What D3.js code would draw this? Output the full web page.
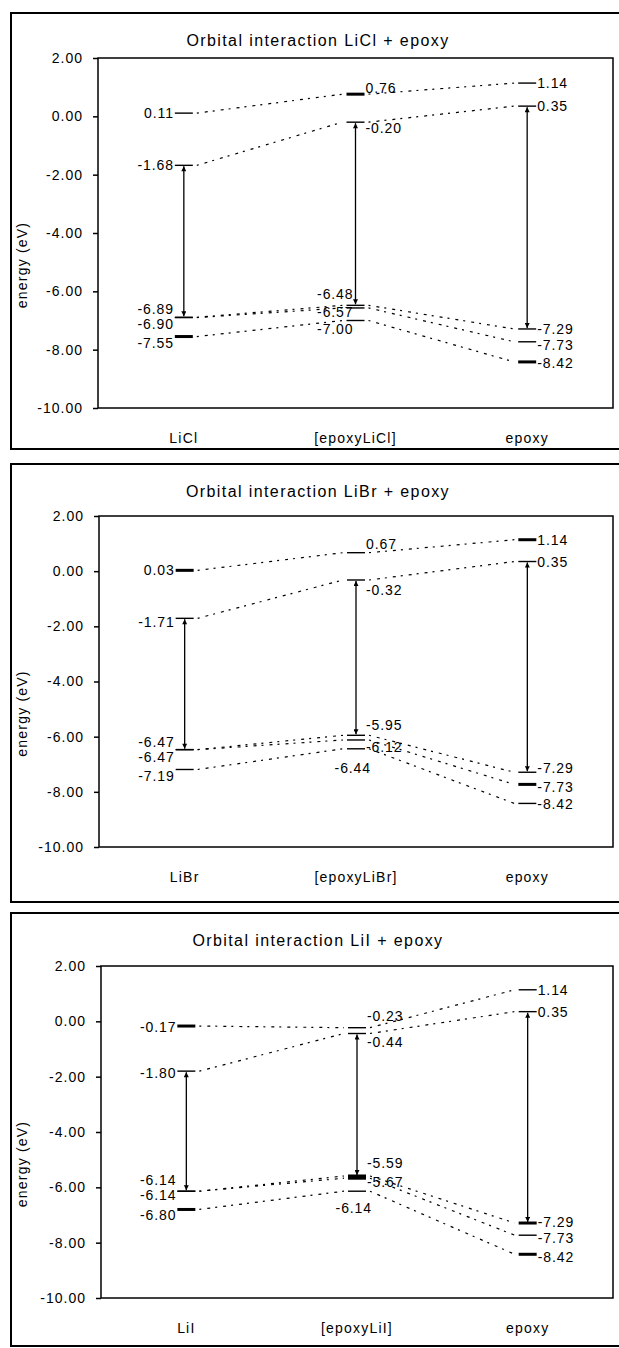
<!DOCTYPE html>
<html>
<head>
<meta charset="utf-8">
<title>Orbital interaction</title>
<script src="https://cdn.jsdelivr.net/npm/d3@7"></script>
<style>
  body { margin: 0; background: #fff; }
  svg { display: block; font-family: "Liberation Sans", Arial, sans-serif; }
  .frame { fill: none; stroke: #000; stroke-width: 2; }
  .plot { fill: none; stroke: #000; stroke-width: 1.5; }
  .link { fill: none; stroke: #000; stroke-width: 1.2; stroke-dasharray: 2,6,3,5; }
  .level { stroke: #000; }
  .gap { stroke: #000; stroke-width: 1.3; }
  .lbl { font-size: 14px; letter-spacing: 0.9px; }
  .title { font-size: 16px; letter-spacing: 1.4px; }
  .cat { font-size: 14px; letter-spacing: 1.2px; }
  .axis text { font-size: 14px; letter-spacing: 1px; font-family: "Liberation Sans", Arial, sans-serif; }
  .axis line { stroke: #000; stroke-width: 1.5; }
</style>
</head>
<body>
<svg id="chart"></svg>
<script>
// ---- data ----
const titles = ["Orbital interaction LiCl + epoxy", "Orbital interaction LiBr + epoxy", "Orbital interaction LiI + epoxy"];
const catsLiCl = ["LiCl", "[epoxyLiCl]", "epoxy"];
const catsLiBr = ["LiBr", "[epoxyLiBr]", "epoxy"];
const catsLiI = ["LiI", "[epoxyLiI]", "epoxy"];
const yTicks = [2, 0, -2, -4, -6, -8, -10];

// energy levels (eV), one row per column, same index = connected orbital
const levelsLiCl = [[0.11, -1.68, -6.89, -6.90, -7.55], [0.76, -0.20, -6.48, -6.57, -7.00], [1.14, 0.35, -7.29, -7.73, -8.42]];
const levelsLiBr = [[0.03, -1.71, -6.47, -6.47, -7.19], [0.67, -0.32, -5.95, -6.12, -6.44], [1.14, 0.35, -7.29, -7.73, -8.42]];
const levelsLiI = [[-0.17, -1.80, -6.14, -6.14, -6.80], [-0.23, -0.44, -5.59, -5.67, -6.14], [1.14, 0.35, -7.29, -7.73, -8.42]];

// LUMO / HOMO index used for the gap arrows
const gapPair = [1, 2];

// ---- styling / placement ----
const thickLiCl = [[0, 0, 0, 0, 1], [1, 0, 0, 0, 0], [0, 0, 0, 0, 1]];
const thickLiBr = [[1, 0, 0, 0, 0], [0, 0, 0, 0, 0], [1, 0, 0, 1, 0]];
const thickLiI = [[1, 0, 0, 0, 1], [0, 0, 1, 1, 0], [0, 0, 1, 0, 1]];

// [side, dy]  l = left of bar, r = right, m = left overlapping, b = below
const labelsLiCl = [
  [["l", 0], ["l", 0], ["l", -8], ["l", 6], ["l", 6]],
  [["r", -6], ["r", 6], ["m", -11], ["m", 4], ["m", 8]],
  [["r", 0], ["r", 0], ["r", 0], ["r", 3], ["r", 1]]];
const labelsLiBr = [
  [["l", 0], ["l", 4], ["l", -8], ["l", 7], ["l", 7]],
  [["r", -9], ["r", 10], ["r", -10], ["r", 7], ["b", 19]],
  [["r", 0], ["r", 0], ["r", -4], ["r", 3], ["r", 1]]];
const labelsLiI = [
  [["l", 1], ["l", 2], ["l", -11], ["l", 4], ["l", 6]],
  [["r", -12], ["r", 8], ["r", -13], ["r", 4], ["b", 17]],
  [["r", 0], ["r", 0], ["r", -1], ["r", 3], ["r", 3]]];

const panels = [
  { title: titles[0], cats: catsLiCl, levels: levelsLiCl, thick: thickLiCl, labels: labelsLiCl, frame: [13, 449], plot: [58, 408], left: 98 },
  { title: titles[1], cats: catsLiBr, levels: levelsLiBr, thick: thickLiBr, labels: labelsLiBr, frame: [464, 902], plot: [516, 847], left: 99 },
  { title: titles[2], cats: catsLiI, levels: levelsLiI, thick: thickLiI, labels: labelsLiI, frame: [913, 1346], plot: [966, 1298], left: 101 }
];

const W = 619, H = 1348, plotRight = 613, hw = 9;

const svg = d3.select('#chart').attr('width', W).attr('height', H);
svg.append('rect').attr('width', W).attr('height', H).attr('fill', '#fff');

const defs = svg.append('defs');
defs.append('marker')
  .attr('id', 'head')
  .attr('viewBox', '0 0 10 10')
  .attr('refX', 10).attr('refY', 5)
  .attr('markerWidth', 6).attr('markerHeight', 5)
  .attr('markerUnits', 'userSpaceOnUse')
  .attr('orient', 'auto-start-reverse')
  .append('path').attr('d', 'M0,0L10,5L0,10Z').attr('fill', '#000');

panels.forEach(drawPanel);

function drawPanel(p) {
  const g = svg.append('g');

  g.append('rect').attr('class', 'frame')
    .attr('x', 11).attr('y', p.frame[0])
    .attr('width', W + 10).attr('height', p.frame[1] - p.frame[0]);

  const y = d3.scaleLinear().domain([-10, 2]).range([p.plot[1], p.plot[0]]);
  const x = d3.scalePoint().domain(p.cats).range([p.left, plotRight]).padding(0.5);

  g.append('text').attr('class', 'title')
    .attr('x', 318).attr('y', p.frame[0] + 27)
    .attr('text-anchor', 'middle').attr('dominant-baseline', 'central')
    .text(p.title);

  // y axis
  const ax = g.append('g').attr('class', 'axis')
    .attr('transform', `translate(${p.left},0)`)
    .call(d3.axisLeft(y).tickValues(yTicks).tickSize(5).tickPadding(10)
      .tickFormat(d => d.toFixed(2)));
  ax.select('.domain').remove();
  ax.selectAll('text').attr('fill', '#000');

  g.append('rect').attr('class', 'plot')
    .attr('x', p.left).attr('y', p.plot[0])
    .attr('width', plotRight - p.left).attr('height', p.plot[1] - p.plot[0]);

  g.append('text').attr('class', 'cat')
    .attr('transform', `translate(22,${(p.plot[0] + p.plot[1]) / 2 + 32}) rotate(-90)`)
    .attr('text-anchor', 'middle').attr('dominant-baseline', 'central')
    .text('energy (eV)');

  // category labels
  g.selectAll('.catlbl').data(p.cats).join('text')
    .attr('class', 'cat')
    .attr('x', d => x(d)).attr('y', p.plot[1] + 30)
    .attr('text-anchor', 'middle').attr('dominant-baseline', 'central')
    .text(d => d);

  // dotted connecting lines
  const nLev = p.levels[0].length;
  const links = [];
  for (let i = 0; i < nLev; i++) {
    for (let c = 0; c < p.cats.length - 1; c++) {
      links.push([
        [x(p.cats[c]) + hw + 4, y(p.levels[c][i])],
        [x(p.cats[c + 1]) - hw - 4, y(p.levels[c + 1][i])]
      ]);
    }
  }
  g.selectAll('.link').data(links).join('path')
    .attr('class', 'link')
    .attr('d', d3.line());

  // gap arrows
  g.selectAll('.gap').data(p.cats).join('line')
    .attr('class', 'gap')
    .attr('x1', d => x(d)).attr('x2', d => x(d))
    .attr('y1', (d, c) => y(p.levels[c][gapPair[0]]) + 1)
    .attr('y2', (d, c) => y(p.levels[c][gapPair[1]]) - 1)
    .attr('marker-start', 'url(#head)')
    .attr('marker-end', 'url(#head)');

  // levels and labels
  const pts = [];
  p.levels.forEach((col, c) => col.forEach((v, i) => pts.push({
    cx: x(p.cats[c]), v, thick: p.thick[c][i], side: p.labels[c][i][0], dy: p.labels[c][i][1]
  })));

  g.selectAll('.level').data(pts).join('line')
    .attr('class', 'level')
    .attr('x1', d => d.cx - hw).attr('x2', d => d.cx + hw)
    .attr('y1', d => y(d.v)).attr('y2', d => y(d.v))
    .attr('stroke-width', d => d.thick ? 3 : 1.4);

  const lx = { l: d => d.cx - hw - 1, r: d => d.cx + hw + 1, m: d => d.cx - 2, b: d => d.cx + 15 };
  const anchor = { l: 'end', r: 'start', m: 'end', b: 'end' };
  g.selectAll('.lbl').data(pts).join('text')
    .attr('class', 'lbl')
    .attr('x', d => lx[d.side](d))
    .attr('y', d => y(d.v) + d.dy)
    .attr('text-anchor', d => anchor[d.side])
    .attr('dominant-baseline', 'central')
    .text(d => d.v.toFixed(2));
}
</script>
</body>
</html>
